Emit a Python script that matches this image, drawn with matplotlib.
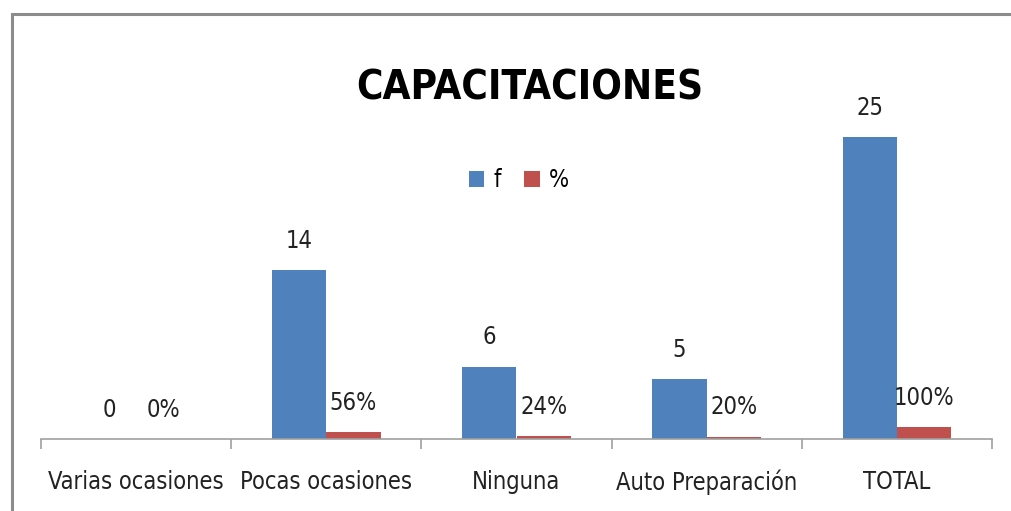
import matplotlib
matplotlib.use("Agg")
import matplotlib.pyplot as plt
import matplotlib.patches as mpatches
import numpy as np

plt.rcParams['font.family'] = 'DejaVu Sans'
plt.rcParams['font.stretch'] = 'condensed'

categories = ['Varias ocasiones', 'Pocas ocasiones', 'Ninguna', 'Auto Preparación', 'TOTAL']
f_values = [0, 14, 6, 5, 25]
pct_values = [0.0, 0.56, 0.24, 0.20, 1.00]
pct_labels = ['0%', '56%', '24%', '20%', '100%']

blue = '#4F81BD'
red = '#C0504D'

fig = plt.figure(figsize=(10.11, 5.11), dpi=100)

# outer chart border (only top and left edges visible in frame)
fig.patches.append(mpatches.Rectangle((12/1011, -0.1), 1.2, (511-14)/511 + 0.1,
                                      transform=fig.transFigure, fill=False,
                                      edgecolor='#8c8c8c', linewidth=2.2))

ax = fig.add_axes([41/1011, 72/511, (992-41)/1011, (439-77)/511])

x = np.arange(len(categories))
w = 0.285
b1 = ax.bar(x - w/2, f_values, w, color=blue, label='f')
b2 = ax.bar(x + w/2, pct_values, w, color=red, label='%')

for xi, v in zip(x, f_values):
    ax.annotate(str(v), (xi - w/2, v), xytext=(0, 21), textcoords='offset points',
                ha='center', va='center', fontsize=17, color='#222222')
for xi, v, lab in zip(x, pct_values, pct_labels):
    ax.annotate(lab, (xi + w/2, v), xytext=(0, 21), textcoords='offset points',
                ha='center', va='center', fontsize=17, color='#222222')

ax.set_xlim(-0.5, len(categories) - 0.5)
ax.set_ylim(0, 30)
ax.set_yticks([])
for s in ['top', 'right', 'left']:
    ax.spines[s].set_visible(False)
ax.spines['bottom'].set_color('#a0a0a0')
ax.spines['bottom'].set_linewidth(1.2)

ax.set_xticks(x)
ax.set_xticklabels(categories, fontsize=17, color='#222222')
ax.tick_params(axis='x', which='major', length=0, pad=22)
ax.set_xticks(np.arange(-0.5, len(categories)), minor=True)
ax.tick_params(axis='x', which='minor', length=7, color='#a0a0a0', width=1.2)

fig.text(530/1011, (511-88)/511, 'CAPACITACIONES', ha='center', va='center',
         fontsize=29, fontweight='bold')

fig.legend(handles=[b1, b2], labels=['f', '%'], loc='center',
           bbox_to_anchor=(519/1011, (511-180)/511), ncol=2, frameon=False,
           fontsize=17, handlelength=0.65, handleheight=0.65, handletextpad=0.4,
           columnspacing=1.0)

fig.savefig('out.png', dpi=100)
